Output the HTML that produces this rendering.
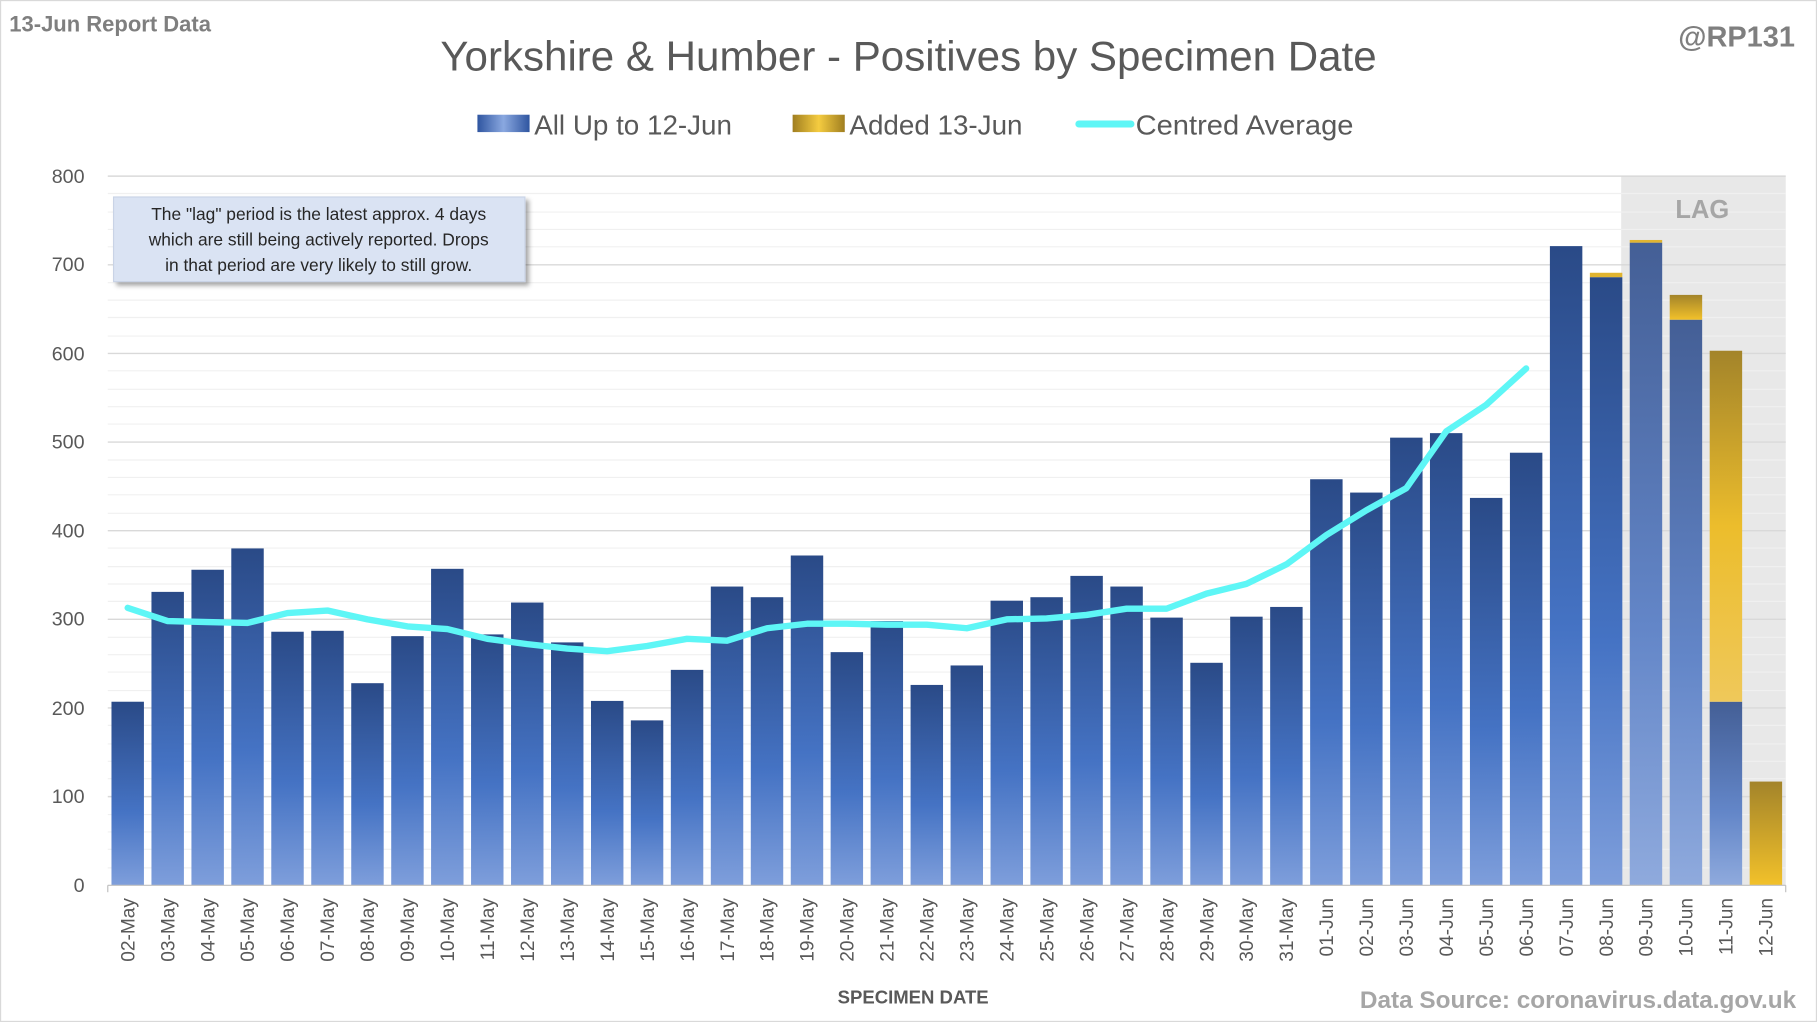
<!DOCTYPE html>
<html><head><meta charset="utf-8"><style>
html,body{margin:0;padding:0;background:#fff;}
svg{display:block;font-family:"Liberation Sans",sans-serif;}
</style></head><body>
<svg width="1817" height="1022" viewBox="0 0 1568 882" preserveAspectRatio="none" xmlns="http://www.w3.org/2000/svg">
<defs>
<linearGradient id="gb" x1="0" y1="0" x2="0" y2="1"><stop offset="0" stop-color="#2a4a87"/><stop offset="0.6" stop-color="#4573c4"/><stop offset="1" stop-color="#7e9edb"/></linearGradient>
<linearGradient id="gb2" x1="0" y1="0" x2="0" y2="1"><stop offset="0" stop-color="#445f96"/><stop offset="0.6" stop-color="#6386c8"/><stop offset="1" stop-color="#8faadd"/></linearGradient>
<linearGradient id="gg" x1="0" y1="0" x2="0" y2="1"><stop offset="0" stop-color="#a3842a"/><stop offset="0.5" stop-color="#ecbd2c"/><stop offset="1" stop-color="#efc85a"/></linearGradient>
<linearGradient id="gg2" x1="0" y1="0" x2="0" y2="1"><stop offset="0" stop-color="#a3842a"/><stop offset="1" stop-color="#f2c12a"/></linearGradient>
<linearGradient id="lb" x1="0" y1="0" x2="1" y2="0"><stop offset="0" stop-color="#2f55a0"/><stop offset="0.5" stop-color="#8aa8e0"/><stop offset="1" stop-color="#2f55a0"/></linearGradient>
<linearGradient id="lg" x1="0" y1="0" x2="1" y2="0"><stop offset="0" stop-color="#a07e20"/><stop offset="0.5" stop-color="#f5cc40"/><stop offset="1" stop-color="#a07e20"/></linearGradient>
<filter id="sh" x="-10%" y="-10%" width="130%" height="140%"><feDropShadow dx="3" dy="3" stdDeviation="2" flood-color="#000" flood-opacity="0.35"/></filter>
</defs>
<rect x="0.5" y="0.5" width="1567" height="881" fill="#fff" stroke="#d9d9d9"/>
<text x="8" y="27" font-size="19" font-weight="bold" fill="#7f7f7f">13-Jun Report Data</text>
<text x="1549" y="40" font-size="25" font-weight="bold" fill="#7f7f7f" text-anchor="end">@RP131</text>
<text x="784" y="61" font-size="36" fill="#595959" text-anchor="middle" textLength="808" lengthAdjust="spacingAndGlyphs">Yorkshire &amp; Humber - Positives by Specimen Date</text>
<rect x="412" y="99" width="45" height="15" fill="url(#lb)"/>
<text x="461" y="116" font-size="24" fill="#595959">All Up to 12-Jun</text>
<rect x="684" y="99" width="45" height="15" fill="url(#lg)"/>
<text x="733" y="116" font-size="24" fill="#595959">Added 13-Jun</text>
<line x1="931" y1="107" x2="976" y2="107" stroke="#5ef6f6" stroke-width="6" stroke-linecap="round"/>
<text x="980" y="116" font-size="24" fill="#595959" textLength="188" lengthAdjust="spacingAndGlyphs">Centred Average</text>
<rect x="1399" y="152" width="142" height="612" fill="#e8e8e8"/>
<g stroke="#f0f0f0" stroke-width="1">
<line x1="93" x2="1541" y1="749" y2="749"/><line x1="93" x2="1541" y1="733" y2="733"/><line x1="93" x2="1541" y1="718" y2="718"/><line x1="93" x2="1541" y1="703" y2="703"/>
<line x1="93" x2="1541" y1="672" y2="672"/><line x1="93" x2="1541" y1="657" y2="657"/><line x1="93" x2="1541" y1="642" y2="642"/><line x1="93" x2="1541" y1="626" y2="626"/>
<line x1="93" x2="1541" y1="596" y2="596"/><line x1="93" x2="1541" y1="580" y2="580"/><line x1="93" x2="1541" y1="565" y2="565"/><line x1="93" x2="1541" y1="550" y2="550"/>
<line x1="93" x2="1541" y1="519" y2="519"/><line x1="93" x2="1541" y1="504" y2="504"/><line x1="93" x2="1541" y1="489" y2="489"/><line x1="93" x2="1541" y1="473" y2="473"/>
<line x1="93" x2="1541" y1="443" y2="443"/><line x1="93" x2="1541" y1="427" y2="427"/><line x1="93" x2="1541" y1="412" y2="412"/><line x1="93" x2="1541" y1="397" y2="397"/>
<line x1="93" x2="1541" y1="366" y2="366"/><line x1="93" x2="1541" y1="351" y2="351"/><line x1="93" x2="1541" y1="336" y2="336"/><line x1="93" x2="1541" y1="320" y2="320"/>
<line x1="93" x2="1541" y1="290" y2="290"/><line x1="93" x2="1541" y1="274" y2="274"/><line x1="93" x2="1541" y1="259" y2="259"/><line x1="93" x2="1541" y1="244" y2="244"/>
<line x1="93" x2="1541" y1="213" y2="213"/><line x1="93" x2="1541" y1="198" y2="198"/><line x1="93" x2="1541" y1="183" y2="183"/><line x1="93" x2="1541" y1="167" y2="167"/>
</g>
<g stroke="#d9d9d9" stroke-width="1.2">
<line x1="93" x2="1541" y1="687.5" y2="687.5"/><line x1="93" x2="1541" y1="611" y2="611"/><line x1="93" x2="1541" y1="534.5" y2="534.5"/><line x1="93" x2="1541" y1="458" y2="458"/><line x1="93" x2="1541" y1="381.5" y2="381.5"/><line x1="93" x2="1541" y1="305" y2="305"/><line x1="93" x2="1541" y1="228.5" y2="228.5"/><line x1="93" x2="1541" y1="152" y2="152"/>
</g>
<text x="1469" y="188" font-size="22" font-weight="bold" fill="#a6a6a6" text-anchor="middle">LAG</text>
<g font-size="17" fill="#595959" text-anchor="end">
<text x="73" y="770">0</text><text x="73" y="693">100</text><text x="73" y="617">200</text><text x="73" y="540">300</text><text x="73" y="464">400</text><text x="73" y="387">500</text><text x="73" y="311">600</text><text x="73" y="234">700</text><text x="73" y="158">800</text>
</g>
<g fill="url(#gb)">
<rect x="96.2" y="605.6" width="28" height="158.4"/>
<rect x="130.7" y="510.8" width="28" height="253.2"/>
<rect x="165.2" y="491.7" width="28" height="272.3"/>
<rect x="199.6" y="473.3" width="28" height="290.7"/>
<rect x="234.1" y="545.2" width="28" height="218.8"/>
<rect x="268.6" y="544.4" width="28" height="219.6"/>
<rect x="303.1" y="589.6" width="28" height="174.4"/>
<rect x="337.6" y="549.0" width="28" height="215.0"/>
<rect x="372.0" y="490.9" width="28" height="273.1"/>
<rect x="406.5" y="547.5" width="28" height="216.5"/>
<rect x="441.0" y="520.0" width="28" height="244.0"/>
<rect x="475.5" y="554.4" width="28" height="209.6"/>
<rect x="510.0" y="604.9" width="28" height="159.1"/>
<rect x="544.4" y="621.7" width="28" height="142.3"/>
<rect x="578.9" y="578.1" width="28" height="185.9"/>
<rect x="613.4" y="506.2" width="28" height="257.8"/>
<rect x="647.9" y="515.4" width="28" height="248.6"/>
<rect x="682.4" y="479.4" width="28" height="284.6"/>
<rect x="716.8" y="562.8" width="28" height="201.2"/>
<rect x="751.3" y="536.0" width="28" height="228.0"/>
<rect x="785.8" y="591.1" width="28" height="172.9"/>
<rect x="820.3" y="574.3" width="28" height="189.7"/>
<rect x="854.8" y="518.4" width="28" height="245.6"/>
<rect x="889.2" y="515.4" width="28" height="248.6"/>
<rect x="923.7" y="497.0" width="28" height="267.0"/>
<rect x="958.2" y="506.2" width="28" height="257.8"/>
<rect x="992.7" y="533.0" width="28" height="231.0"/>
<rect x="1027.2" y="572.0" width="28" height="192.0"/>
<rect x="1061.6" y="532.2" width="28" height="231.8"/>
<rect x="1096.1" y="523.8" width="28" height="240.2"/>
<rect x="1130.6" y="413.6" width="28" height="350.4"/>
<rect x="1165.1" y="425.1" width="28" height="338.9"/>
<rect x="1199.6" y="377.7" width="28" height="386.3"/>
<rect x="1234.0" y="373.8" width="28" height="390.2"/>
<rect x="1268.5" y="429.7" width="28" height="334.3"/>
<rect x="1303.0" y="390.7" width="28" height="373.3"/>
<rect x="1337.5" y="212.4" width="28" height="551.6"/>
<rect x="1372.0" y="239.2" width="28" height="524.8"/>
</g>
<g fill="url(#gb2)">
<rect x="1406.4" y="209.4" width="28" height="554.6"/>
<rect x="1440.9" y="275.9" width="28" height="488.1"/>
<rect x="1475.4" y="605.6" width="28" height="158.4"/>
</g>
<rect x="1372.0" y="235.4" width="28" height="3.8" fill="#e0b430"/>
<rect x="1406.4" y="207.1" width="28" height="2.3" fill="#e0b430"/>
<rect x="1440.9" y="254.5" width="28" height="21.4" fill="url(#gg2)"/>
<rect x="1475.4" y="302.7" width="28" height="302.9" fill="url(#gg)"/>
<rect x="1509.9" y="674.5" width="28" height="89.5" fill="url(#gg2)"/>
<polyline fill="none" stroke="#5ef6f6" stroke-width="5.5" stroke-linejoin="round" stroke-linecap="round" points="110.2,524.6 144.7,536 179.2,536.8 213.6,537.6 248.1,529.1 282.6,526.9 317.1,534.5 351.6,540.6 386,542.9 420.5,551.3 455,555.9 489.5,559.7 524,562 558.4,557.5 592.9,551.3 627.4,552.9 661.9,542.2 696.4,538.3 730.8,538.3 765.3,539.1 799.8,539.1 834.3,542.2 868.8,534.5 903.2,533.7 937.7,530.7 972.2,525.3 1006.7,525.3 1041.2,512.3 1075.6,503.9 1110.1,487.1 1144.6,461.8 1179.1,440.4 1213.6,421.3 1248,372.3 1282.5,349.4 1317,318"/>
<line x1="93" x2="1541" y1="764" y2="764" stroke="#bfbfbf"/>
<g stroke="#bfbfbf">
<line x1="93" x2="93" y1="764" y2="770"/><line x1="1541" x2="1541" y1="764" y2="770"/>
</g>
<g font-size="16.5" fill="#595959" text-anchor="end" font-family="Liberation Sans, sans-serif">
<text transform="translate(116,775) rotate(-90)">02-May</text>
<text transform="translate(150.5,775) rotate(-90)">03-May</text>
<text transform="translate(185,775) rotate(-90)">04-May</text>
<text transform="translate(219.4,775) rotate(-90)">05-May</text>
<text transform="translate(253.9,775) rotate(-90)">06-May</text>
<text transform="translate(288.4,775) rotate(-90)">07-May</text>
<text transform="translate(322.9,775) rotate(-90)">08-May</text>
<text transform="translate(357.4,775) rotate(-90)">09-May</text>
<text transform="translate(391.8,775) rotate(-90)">10-May</text>
<text transform="translate(426.3,775) rotate(-90)">11-May</text>
<text transform="translate(460.8,775) rotate(-90)">12-May</text>
<text transform="translate(495.3,775) rotate(-90)">13-May</text>
<text transform="translate(529.8,775) rotate(-90)">14-May</text>
<text transform="translate(564.2,775) rotate(-90)">15-May</text>
<text transform="translate(598.7,775) rotate(-90)">16-May</text>
<text transform="translate(633.2,775) rotate(-90)">17-May</text>
<text transform="translate(667.7,775) rotate(-90)">18-May</text>
<text transform="translate(702.2,775) rotate(-90)">19-May</text>
<text transform="translate(736.6,775) rotate(-90)">20-May</text>
<text transform="translate(771.1,775) rotate(-90)">21-May</text>
<text transform="translate(805.6,775) rotate(-90)">22-May</text>
<text transform="translate(840.1,775) rotate(-90)">23-May</text>
<text transform="translate(874.6,775) rotate(-90)">24-May</text>
<text transform="translate(909,775) rotate(-90)">25-May</text>
<text transform="translate(943.5,775) rotate(-90)">26-May</text>
<text transform="translate(978,775) rotate(-90)">27-May</text>
<text transform="translate(1012.5,775) rotate(-90)">28-May</text>
<text transform="translate(1047,775) rotate(-90)">29-May</text>
<text transform="translate(1081.4,775) rotate(-90)">30-May</text>
<text transform="translate(1115.9,775) rotate(-90)">31-May</text>
<text transform="translate(1150.4,775) rotate(-90)">01-Jun</text>
<text transform="translate(1184.9,775) rotate(-90)">02-Jun</text>
<text transform="translate(1219.4,775) rotate(-90)">03-Jun</text>
<text transform="translate(1253.8,775) rotate(-90)">04-Jun</text>
<text transform="translate(1288.3,775) rotate(-90)">05-Jun</text>
<text transform="translate(1322.8,775) rotate(-90)">06-Jun</text>
<text transform="translate(1357.3,775) rotate(-90)">07-Jun</text>
<text transform="translate(1391.8,775) rotate(-90)">08-Jun</text>
<text transform="translate(1426.2,775) rotate(-90)">09-Jun</text>
<text transform="translate(1460.7,775) rotate(-90)">10-Jun</text>
<text transform="translate(1495.2,775) rotate(-90)">11-Jun</text>
<text transform="translate(1529.7,775) rotate(-90)">12-Jun</text>
</g>
<text x="788" y="866" font-size="16" font-weight="bold" fill="#595959" text-anchor="middle">SPECIMEN DATE</text>
<text x="1550" y="870" font-size="21" font-weight="bold" fill="#a6a6a6" text-anchor="end">Data Source: coronavirus.data.gov.uk</text>
<rect x="98" y="170" width="355" height="73" fill="#dae3f3" stroke="#c9d3e6" filter="url(#sh)"/>
<g font-size="15" fill="#262626" text-anchor="middle">
<text x="275" y="190">The "lag" period is the latest approx. 4 days</text>
<text x="275" y="212">which are still being actively reported.  Drops</text>
<text x="275" y="234">in that period are very likely to still grow.</text>
</g>
</svg>
</body></html>
